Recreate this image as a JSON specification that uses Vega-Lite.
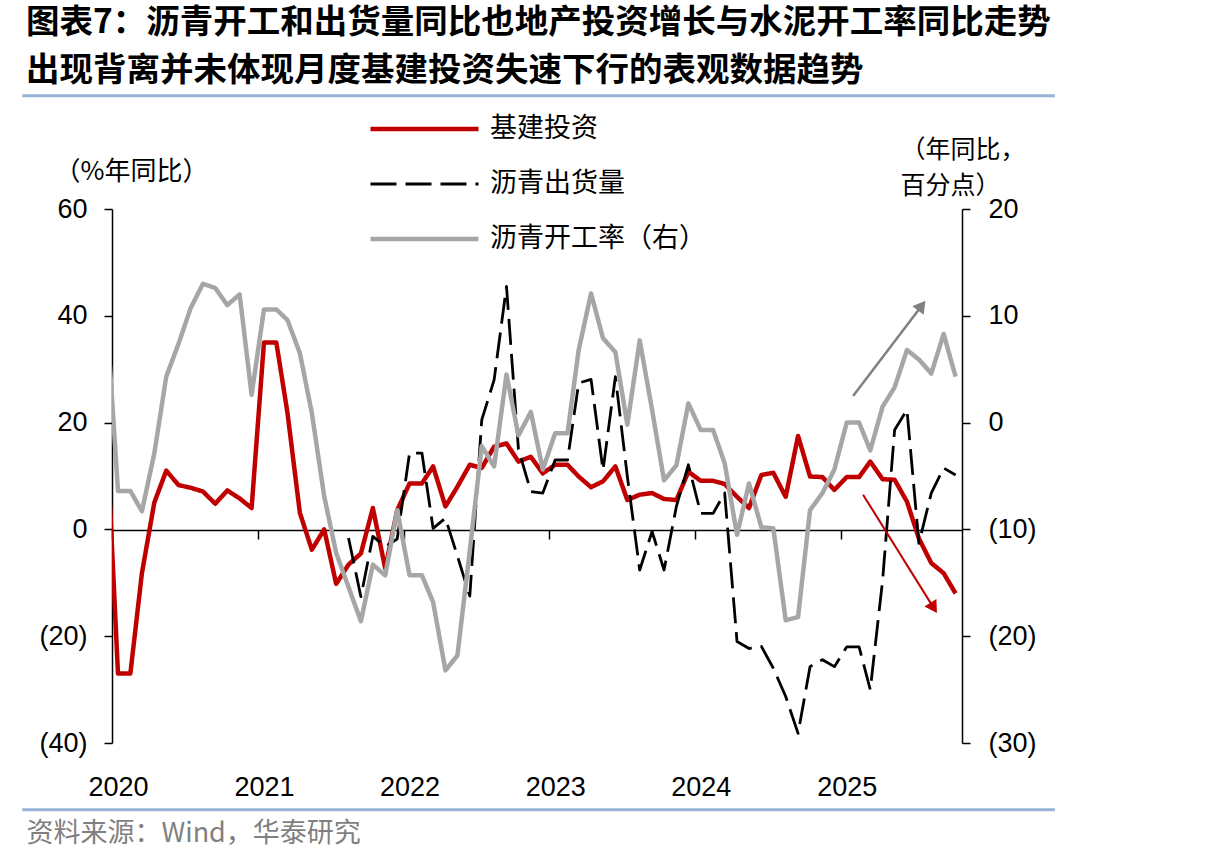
{
  "$schema": "https://vega.github.io/schema/vega-lite/v6.json",
  "width": 850,
  "height": 534,
  "autosize": {"type": "none"},
  "padding": {"left": 112, "top": 209, "right": 244, "bottom": 123},
  "background": "white",
  "config": {"view": {"stroke": null}, "font": "Liberation Sans", "axis": {"grid": false}},
  "title": {
    "text": ["图表7：沥青开工和出货量同比也地产投资增长与水泥开工率同比走势", "出现背离并未体现月度基建投资失速下行的表观数据趋势"],
    "anchor": "start", "frame": "group", "font": "Noto Sans CJK SC", "fontSize": 33.5, "fontWeight": "bold",
    "color": "black", "lineHeight": 48, "dx": -86, "offset": 6
  },
  "datasets": {
    "series": [
      {"date": "2019-12-16", "基建投资": 22, "沥青出货量": null, "沥青开工率（右）": 11.5},
      {"date": "2020-01-16", "基建投资": -27, "沥青出货量": null, "沥青开工率（右）": -6.4},
      {"date": "2020-02-16", "基建投资": -27, "沥青出货量": null, "沥青开工率（右）": -6.4},
      {"date": "2020-03-16", "基建投资": -8.2, "沥青出货量": null, "沥青开工率（右）": -8.3},
      {"date": "2020-04-16", "基建投资": 5.0, "沥青出货量": null, "沥青开工率（右）": -2.9},
      {"date": "2020-05-16", "基建投资": 11.0, "沥青出货量": null, "沥青开工率（右）": 4.3},
      {"date": "2020-06-16", "基建投资": 8.3, "沥青出货量": null, "沥青开工率（右）": 7.4},
      {"date": "2020-07-16", "基建投资": 7.8, "沥青出货量": null, "沥青开工率（右）": 10.7},
      {"date": "2020-08-16", "基建投资": 7.1, "沥青出货量": null, "沥青开工率（右）": 13.0},
      {"date": "2020-09-16", "基建投资": 4.8, "沥青出货量": null, "沥青开工率（右）": 12.6},
      {"date": "2020-10-16", "基建投资": 7.3, "沥青出货量": null, "沥青开工率（右）": 11.0},
      {"date": "2020-11-16", "基建投资": 5.8, "沥青出货量": null, "沥青开工率（右）": 12.0},
      {"date": "2020-12-16", "基建投资": 4.0, "沥青出货量": null, "沥青开工率（右）": 2.6},
      {"date": "2021-01-16", "基建投资": 35.0, "沥青出货量": null, "沥青开工率（右）": 10.6},
      {"date": "2021-02-16", "基建投资": 35.0, "沥青出货量": null, "沥青开工率（右）": 10.6},
      {"date": "2021-03-16", "基建投资": 21.8, "沥青出货量": null, "沥青开工率（右）": 9.6},
      {"date": "2021-04-16", "基建投资": 3.1, "沥青出货量": null, "沥青开工率（右）": 6.5},
      {"date": "2021-05-16", "基建投资": -3.8, "沥青出货量": null, "沥青开工率（右）": 0.9},
      {"date": "2021-06-16", "基建投资": 0.0, "沥青出货量": null, "沥青开工率（右）": -6.9},
      {"date": "2021-07-16", "基建投资": -10.2, "沥青出货量": null, "沥青开工率（右）": -12.2},
      {"date": "2021-08-16", "基建投资": -6.6, "沥青出货量": -1.6, "沥青开工率（右）": -15.4},
      {"date": "2021-09-16", "基建投资": -4.5, "沥青出货量": -12.6, "沥青开工率（右）": -18.6},
      {"date": "2021-10-16", "基建投资": 4.0, "沥青出货量": -1.3, "沥青开工率（右）": -13.3},
      {"date": "2021-11-16", "基建投资": -7.3, "沥青出货量": -3.2, "沥青开工率（右）": -14.3},
      {"date": "2021-12-16", "基建投资": 3.6, "沥青出货量": -1.8, "沥青开工率（右）": -8.2},
      {"date": "2022-01-16", "基建投资": 8.6, "沥青出货量": 14.3, "沥青开工率（右）": -14.3},
      {"date": "2022-02-16", "基建投资": 8.6, "沥青出货量": 14.3, "沥青开工率（右）": -14.3},
      {"date": "2022-03-16", "基建投资": 11.8, "沥青出货量": 0.2, "沥青开工率（右）": -16.8},
      {"date": "2022-04-16", "基建投资": 4.3, "沥青出货量": 2.1, "沥青开工率（右）": -23.2},
      {"date": "2022-05-16", "基建投资": 8.0, "沥青出货量": -5.0, "沥青开工率（右）": -21.8},
      {"date": "2022-06-16", "基建投资": 12.1, "沥青出货量": -12.5, "沥青开工率（右）": -12.0},
      {"date": "2022-07-16", "基建投资": 11.5, "沥青出货量": 20.5, "沥青开工率（右）": -2.2},
      {"date": "2022-08-16", "基建投资": 15.5, "沥青出货量": 28.0, "沥青开工率（右）": -4.1},
      {"date": "2022-09-16", "基建投资": 16.1, "沥青出货量": 45.5, "沥青开工率（右）": 4.5},
      {"date": "2022-10-16", "基建投资": 12.7, "沥青出货量": 15.0, "沥青开工率（右）": -1.2},
      {"date": "2022-11-16", "基建投资": 13.6, "沥青出货量": 7.1, "沥青开工率（右）": 1.0},
      {"date": "2022-12-16", "基建投资": 10.5, "沥青出货量": 6.8, "沥青开工率（右）": -4.4},
      {"date": "2023-01-16", "基建投资": 12.1, "沥青出货量": 13.0, "沥青开工率（右）": -1.0},
      {"date": "2023-02-16", "基建投资": 12.1, "沥青出货量": 13.0, "沥青开工率（右）": -1.0},
      {"date": "2023-03-16", "基建投资": 9.9, "沥青出货量": 27.4, "沥青开工率（右）": 6.8},
      {"date": "2023-04-16", "基建投资": 7.9, "沥青出货量": 28.1, "沥青开工率（右）": 12.1},
      {"date": "2023-05-16", "基建投资": 9.0, "沥青出货量": 11.1, "沥青开工率（右）": 7.9},
      {"date": "2023-06-16", "基建投资": 11.8, "沥青出货量": 28.6, "沥青开工率（右）": 6.6},
      {"date": "2023-07-16", "基建投资": 5.5, "沥青出货量": 9.9, "沥青开工率（右）": -0.2},
      {"date": "2023-08-16", "基建投资": 6.5, "沥青出货量": -7.6, "沥青开工率（右）": 7.7},
      {"date": "2023-09-16", "基建投资": 6.8, "沥青出货量": -0.4, "沥青开工率（右）": 1.2},
      {"date": "2023-10-16", "基建投资": 5.7, "沥青出货量": -7.6, "沥青开工率（右）": -5.4},
      {"date": "2023-11-16", "基建投资": 5.5, "沥青出货量": 4.3, "沥青开工率（右）": -4.0},
      {"date": "2023-12-16", "基建投资": 10.8, "沥青出货量": 12.1, "沥青开工率（右）": 1.8},
      {"date": "2024-01-16", "基建投资": 9.1, "沥青出货量": 3.0, "沥青开工率（右）": -0.7},
      {"date": "2024-02-16", "基建投资": 9.1, "沥青出货量": 3.0, "沥青开工率（右）": -0.7},
      {"date": "2024-03-16", "基建投资": 8.5, "沥青出货量": 6.8, "沥青开工率（右）": -3.8},
      {"date": "2024-04-16", "基建投资": 6.1, "沥青出货量": -21.0, "沥青开工率（右）": -10.5},
      {"date": "2024-05-16", "基建投资": 4.0, "沥青出货量": -22.3, "沥青开工率（右）": -5.7},
      {"date": "2024-06-16", "基建投资": 10.2, "沥青出货量": -21.9, "沥青开工率（右）": -9.8},
      {"date": "2024-07-16", "基建投资": 10.6, "沥青出货量": -26.0, "沥青开工率（右）": -9.9},
      {"date": "2024-08-16", "基建投资": 6.1, "沥青出货量": -31.3, "沥青开工率（右）": -18.5},
      {"date": "2024-09-16", "基建投资": 17.5, "沥青出货量": -38.2, "沥青开工率（右）": -18.2},
      {"date": "2024-10-16", "基建投资": 9.9, "沥青出货量": -25.7, "沥青开工率（右）": -8.2},
      {"date": "2024-11-16", "基建投资": 9.8, "沥青出货量": -24.4, "沥青开工率（右）": -6.6},
      {"date": "2024-12-16", "基建投资": 7.4, "沥青出货量": -25.7, "沥青开工率（右）": -4.4},
      {"date": "2025-01-16", "基建投资": 9.8, "沥青出货量": -22.0, "沥青开工率（右）": 0.0},
      {"date": "2025-02-16", "基建投资": 9.8, "沥青出货量": -22.0, "沥青开工率（右）": 0.0},
      {"date": "2025-03-16", "基建投资": 12.7, "沥青出货量": -30.0, "沥青开工率（右）": -2.6},
      {"date": "2025-04-16", "基建投资": 9.4, "沥青出货量": -9.5, "沥青开工率（右）": 1.5},
      {"date": "2025-05-16", "基建投资": 9.3, "沥青出货量": 18.6, "沥青开工率（右）": 3.3},
      {"date": "2025-06-16", "基建投资": 5.2, "沥青出货量": 22.4, "沥青开工率（右）": 6.8},
      {"date": "2025-07-16", "基建投资": -1.7, "沥青出货量": -2.6, "沥青开工率（右）": 5.9},
      {"date": "2025-08-16", "基建投资": -6.3, "沥青出货量": 6.8, "沥青开工率（右）": 4.6},
      {"date": "2025-09-16", "基建投资": -8.2, "沥青出货量": 11.5, "沥青开工率（右）": 8.3},
      {"date": "2025-10-16", "基建投资": -12.0, "沥青出货量": 10.2, "沥青开工率（右）": 4.3}
    ],
    "arrows": [
      {"trend": "up", "start": "2025-02-01", "v0": 25.0, "end": "2025-07-23", "v1": 41.9},
      {"trend": "down", "start": "2025-02-26", "v0": 6.5, "end": "2025-08-22", "v1": -14.7}
    ]
  },
  "layer": [
    {
      "data": {"name": "series"},
      "transform": [{"fold": ["基建投资"], "as": ["s", "v"]}],
      "mark": {"type": "line", "clip": true, "strokeJoin": "round"},
      "encoding": {
        "x": {
          "field": "date", "type": "temporal",
          "scale": {"type": "utc", "domain": [{"year": 2020, "month": 1, "date": 1, "utc": true}, {"year": 2025, "month": 11, "date": 1, "utc": true}]},
          "axis": {
            "values": [
              {"year": 2020, "month": 1, "date": 1, "utc": true},
              {"year": 2021, "month": 1, "date": 1, "utc": true},
              {"year": 2022, "month": 1, "date": 1, "utc": true},
              {"year": 2023, "month": 1, "date": 1, "utc": true},
              {"year": 2024, "month": 1, "date": 1, "utc": true},
              {"year": 2025, "month": 1, "date": 1, "utc": true}
            ],
            "format": "%Y", "offset": -213, "tickSize": 9, "tickColor": "black", "tickWidth": 1.5,
            "domainColor": "black", "domainWidth": 1.5,
            "labelFont": "Liberation Sans", "labelFontSize": 27, "labelColor": "black",
            "labelPadding": 256, "labelBaseline": "alphabetic", "labelOffset": 6, "labelAngle": 0,
            "labelAlign": "center", "labelFlush": false, "labelOverlap": false, "labelBound": false,
            "title": "资料来源：Wind，华泰研究", "titleFont": "Noto Sans CJK SC", "titleFontSize": 27,
            "titleFontWeight": "normal", "titleColor": "#7F7F7F", "titleAnchor": "start", "titleAlign": "left",
            "titleBaseline": "alphabetic", "titleX": -86, "titleY": 311, "titleAngle": 0
          }
        },
        "y": {
          "field": "v", "type": "quantitative",
          "scale": {"domain": [-40, 60], "nice": false, "zero": false},
          "axis": {
            "orient": "left",
            "values": [-40, -20, 0, 20, 40, 60],
            "labelExpr": "datum.value < 0 ? '(' + abs(datum.value) + ')' : datum.value + ' '",
            "tickSize": 8, "tickColor": "black", "tickWidth": 1.5, "domainColor": "black", "domainWidth": 1.5,
            "labelFont": "Liberation Sans", "labelFontSize": 27, "labelColor": "black", "labelPadding": 17,
            "labelFlush": false, "labelOverlap": false, "labelBound": false,
            "title": "（%年同比）", "titleFont": "Noto Sans CJK SC", "titleFontSize": 26, "titleFontWeight": "normal",
            "titleColor": "black", "titleAngle": 0, "titleAlign": "center", "titleBaseline": "middle",
            "titleX": 19, "titleY": -38
          }
        },
        "color": {
          "field": "s", "type": "nominal",
          "scale": {"domain": ["基建投资", "沥青出货量", "沥青开工率（右）"], "range": ["#C00000", "#000000", "#A6A6A6"]},
          "legend": {
            "orient": "none", "legendX": 256, "legendY": -94, "title": null, "clipHeight": 28,
            "symbolType": "stroke", "symbolSize": 11664, "labelFont": "Noto Sans CJK SC", "labelFontSize": 27,
            "labelColor": "black", "labelOffset": 9, "rowPadding": 27, "labelLimit": 400
          }
        },
        "strokeDash": {
          "field": "s", "type": "nominal",
          "scale": {"domain": ["基建投资", "沥青出货量", "沥青开工率（右）"], "range": [[1, 0], [26, 9], [1, 0]]},
          "legend": {
            "orient": "none", "legendX": 256, "legendY": -94, "title": null, "clipHeight": 28,
            "symbolType": "stroke", "symbolSize": 11664, "labelFont": "Noto Sans CJK SC", "labelFontSize": 27,
            "labelColor": "black", "labelOffset": 9, "rowPadding": 27, "labelLimit": 400
          }
        },
        "strokeWidth": {
          "field": "s", "type": "nominal",
          "scale": {"type": "ordinal", "domain": ["基建投资", "沥青出货量", "沥青开工率（右）"], "range": [4.5, 2.8, 4.5]},
          "legend": {
            "orient": "none", "legendX": 256, "legendY": -94, "title": null, "clipHeight": 28,
            "symbolType": "stroke", "symbolSize": 11664, "labelFont": "Noto Sans CJK SC", "labelFontSize": 27,
            "labelColor": "black", "labelOffset": 9, "rowPadding": 27, "labelLimit": 400
          }
        }
      }
    },
    {
      "data": {"name": "series"},
      "transform": [{"fold": ["沥青出货量"], "as": ["s", "v"]}],
      "mark": {"type": "line", "clip": true, "strokeJoin": "round"},
      "encoding": {
        "x": {"field": "date", "type": "temporal"},
        "y": {"field": "v", "type": "quantitative", "scale": {"domain": [-40, 60], "nice": false, "zero": false}, "axis": null},
        "color": {
          "field": "s", "type": "nominal",
          "scale": {"domain": ["基建投资", "沥青出货量", "沥青开工率（右）"], "range": ["#C00000", "#000000", "#A6A6A6"]},
          "legend": {
            "orient": "none", "legendX": 256, "legendY": -94, "title": null, "clipHeight": 28,
            "symbolType": "stroke", "symbolSize": 11664, "labelFont": "Noto Sans CJK SC", "labelFontSize": 27,
            "labelColor": "black", "labelOffset": 9, "rowPadding": 27, "labelLimit": 400
          }
        },
        "strokeDash": {
          "field": "s", "type": "nominal",
          "scale": {"domain": ["基建投资", "沥青出货量", "沥青开工率（右）"], "range": [[1, 0], [26, 9], [1, 0]]},
          "legend": {
            "orient": "none", "legendX": 256, "legendY": -94, "title": null, "clipHeight": 28,
            "symbolType": "stroke", "symbolSize": 11664, "labelFont": "Noto Sans CJK SC", "labelFontSize": 27,
            "labelColor": "black", "labelOffset": 9, "rowPadding": 27, "labelLimit": 400
          }
        },
        "strokeWidth": {
          "field": "s", "type": "nominal",
          "scale": {"type": "ordinal", "domain": ["基建投资", "沥青出货量", "沥青开工率（右）"], "range": [4.5, 2.8, 4.5]},
          "legend": {
            "orient": "none", "legendX": 256, "legendY": -94, "title": null, "clipHeight": 28,
            "symbolType": "stroke", "symbolSize": 11664, "labelFont": "Noto Sans CJK SC", "labelFontSize": 27,
            "labelColor": "black", "labelOffset": 9, "rowPadding": 27, "labelLimit": 400
          }
        }
      }
    },
    {
      "data": {"name": "series"},
      "transform": [{"fold": ["沥青开工率（右）"], "as": ["s", "v"]}],
      "mark": {"type": "line", "clip": true, "strokeJoin": "round"},
      "encoding": {
        "x": {"field": "date", "type": "temporal"},
        "y": {
          "field": "v", "type": "quantitative",
          "scale": {"domain": [-30, 20], "nice": false, "zero": false},
          "axis": {
            "orient": "right",
            "values": [-30, -20, -10, 0, 10, 20],
            "labelExpr": "datum.value < 0 ? '(' + abs(datum.value) + ')' : '' + datum.value",
            "tickSize": 8, "tickColor": "black", "tickWidth": 1.5, "domainColor": "black", "domainWidth": 1.5,
            "labelFont": "Liberation Sans", "labelFontSize": 27, "labelColor": "black", "labelPadding": 18,
            "labelFlush": false, "labelOverlap": false, "labelBound": false,
            "title": ["（年同比，", "百分点）"], "titleFont": "Noto Sans CJK SC", "titleFontSize": 25, "titleFontWeight": "normal",
            "titleColor": "black", "titleAngle": 0, "titleAlign": "left", "titleBaseline": "alphabetic",
            "titleLineHeight": 36, "titleX": -62, "titleY": -52
          }
        },
        "color": {
          "field": "s", "type": "nominal",
          "scale": {"domain": ["基建投资", "沥青出货量", "沥青开工率（右）"], "range": ["#C00000", "#000000", "#A6A6A6"]},
          "legend": {
            "orient": "none", "legendX": 256, "legendY": -94, "title": null, "clipHeight": 28,
            "symbolType": "stroke", "symbolSize": 11664, "labelFont": "Noto Sans CJK SC", "labelFontSize": 27,
            "labelColor": "black", "labelOffset": 9, "rowPadding": 27, "labelLimit": 400
          }
        },
        "strokeDash": {
          "field": "s", "type": "nominal",
          "scale": {"domain": ["基建投资", "沥青出货量", "沥青开工率（右）"], "range": [[1, 0], [26, 9], [1, 0]]},
          "legend": {
            "orient": "none", "legendX": 256, "legendY": -94, "title": null, "clipHeight": 28,
            "symbolType": "stroke", "symbolSize": 11664, "labelFont": "Noto Sans CJK SC", "labelFontSize": 27,
            "labelColor": "black", "labelOffset": 9, "rowPadding": 27, "labelLimit": 400
          }
        },
        "strokeWidth": {
          "field": "s", "type": "nominal",
          "scale": {"type": "ordinal", "domain": ["基建投资", "沥青出货量", "沥青开工率（右）"], "range": [4.5, 2.8, 4.5]},
          "legend": {
            "orient": "none", "legendX": 256, "legendY": -94, "title": null, "clipHeight": 28,
            "symbolType": "stroke", "symbolSize": 11664, "labelFont": "Noto Sans CJK SC", "labelFontSize": 27,
            "labelColor": "black", "labelOffset": 9, "rowPadding": 27, "labelLimit": 400
          }
        }
      }
    },
    {
      "data": {"values": [{}]},
      "mark": {"type": "rule", "color": "#95B3D7", "strokeWidth": 3},
      "encoding": {
        "x": {"datum": {"year": 2019, "month": 5, "date": 21, "utc": true}, "type": "temporal"},
        "x2": {"datum": {"year": 2026, "month": 6, "date": 22, "utc": true}},
        "y": {"datum": 81.2, "type": "quantitative", "scale": {"domain": [-40, 60], "nice": false, "zero": false}, "axis": null}
      }
    },
    {
      "data": {"values": [{}]},
      "mark": {"type": "rule", "color": "#95B3D7", "strokeWidth": 3},
      "encoding": {
        "x": {"datum": {"year": 2019, "month": 5, "date": 21, "utc": true}, "type": "temporal"},
        "x2": {"datum": {"year": 2026, "month": 6, "date": 22, "utc": true}},
        "y": {"datum": -52.5, "type": "quantitative", "scale": {"domain": [-40, 60], "nice": false, "zero": false}, "axis": null}
      }
    },
    {
      "data": {"name": "arrows"},
      "transform": [{"filter": "datum.trend === 'up'"}],
      "mark": {"type": "rule", "color": "#808080", "strokeWidth": 2.5},
      "encoding": {
        "x": {"field": "start", "type": "temporal"},
        "x2": {"field": "end"},
        "y": {"field": "v0", "type": "quantitative", "scale": {"domain": [-40, 60], "nice": false, "zero": false}, "axis": null},
        "y2": {"field": "v1"}
      }
    },
    {
      "data": {"name": "arrows"},
      "transform": [{"filter": "datum.trend === 'up'"}],
      "mark": {"type": "point", "shape": "triangle-up", "filled": true, "color": "#808080", "opacity": 1, "size": 200, "angle": 37},
      "encoding": {
        "x": {"field": "end", "type": "temporal"},
        "y": {"field": "v1", "type": "quantitative", "scale": {"domain": [-40, 60], "nice": false, "zero": false}, "axis": null}
      }
    },
    {
      "data": {"name": "arrows"},
      "transform": [{"filter": "datum.trend === 'down'"}],
      "mark": {"type": "rule", "color": "#C00000", "strokeWidth": 2},
      "encoding": {
        "x": {"field": "start", "type": "temporal"},
        "x2": {"field": "end"},
        "y": {"field": "v0", "type": "quantitative", "scale": {"domain": [-40, 60], "nice": false, "zero": false}, "axis": null},
        "y2": {"field": "v1"}
      }
    },
    {
      "data": {"name": "arrows"},
      "transform": [{"filter": "datum.trend === 'down'"}],
      "mark": {"type": "point", "shape": "triangle-up", "filled": true, "color": "#C00000", "opacity": 1, "size": 200, "angle": 148},
      "encoding": {
        "x": {"field": "end", "type": "temporal"},
        "y": {"field": "v1", "type": "quantitative", "scale": {"domain": [-40, 60], "nice": false, "zero": false}, "axis": null}
      }
    }
  ],
  "resolve": {"scale": {"y": "independent"}}
}
